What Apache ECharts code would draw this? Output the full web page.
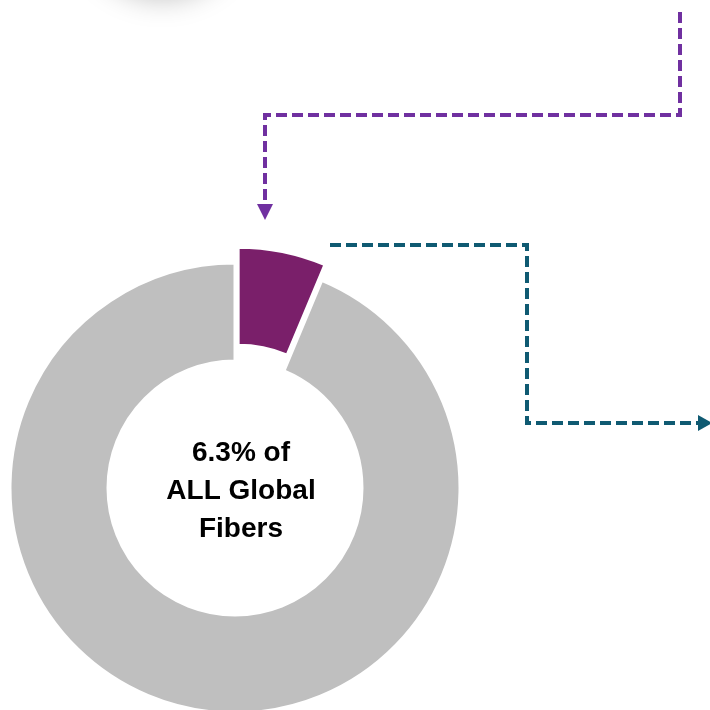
<!DOCTYPE html>
<html><head><meta charset="utf-8">
<script src="https://cdn.jsdelivr.net/npm/echarts@6/dist/echarts.min.js"></script>
<style>html,body{margin:0;padding:0;background:#fff}#c{width:710px;height:710px}</style>
</head><body><div id="c"></div>
<script>
const categories = ['Selected fibers', 'Other fibers'];
const values = [6.3, 93.7];
const colors = ['#7A1F6A', '#BFBFBF'];
const centerLines = ['6.3% of', 'ALL Global', 'Fibers'];

const chart = echarts.init(document.getElementById('c'), null, {renderer: 'canvas'});
const purple = '#7030A0', teal = '#0F5A72';
chart.setOption({
  animation: false,
  backgroundColor: '#ffffff',
  graphic: [
    {type: 'circle', shape: {cx: 162, cy: -85, r: 80}, style: {fill: '#fff', shadowBlur: 30, shadowColor: 'rgba(0,0,0,0.28)', shadowOffsetY: 2}, z: 1},
    {type: 'polyline', shape: {points: [[680, 12], [680, 115], [265, 115], [265, 204]]}, style: {stroke: purple, lineWidth: 4, lineDash: [11, 5], fill: null}, z: 5},
    {type: 'polygon', shape: {points: [[257, 204], [273, 204], [265, 220]]}, style: {fill: purple}, z: 5},
    {type: 'polyline', shape: {points: [[330, 245], [527, 245], [527, 423], [699, 423]]}, style: {stroke: teal, lineWidth: 4, lineDash: [11, 5], fill: null}, z: 5},
    {type: 'polygon', shape: {points: [[698, 415], [698, 431], [712, 423]]}, style: {fill: teal}, z: 5},
    {type: 'text', x: 241, y: 491, style: {text: centerLines.join('\n'), font: 'bold 28px "Liberation Sans", Arial, sans-serif', fill: '#000', align: 'center', verticalAlign: 'middle', lineHeight: 38}, z: 10}
  ],
  series: [{
    type: 'pie',
    center: [235, 488],
    radius: [127, 225],
    startAngle: 90,
    clockwise: true,
    selectedMode: 'single',
    selectedOffset: 16,
    label: {show: false},
    labelLine: {show: false},
    emphasis: {disabled: true},
    itemStyle: {borderColor: '#fff', borderWidth: 3},
    data: categories.map((n, i) => ({name: n, value: values[i], selected: i === 0, itemStyle: {color: colors[i]}}))
  }]
});
</script></body></html>
